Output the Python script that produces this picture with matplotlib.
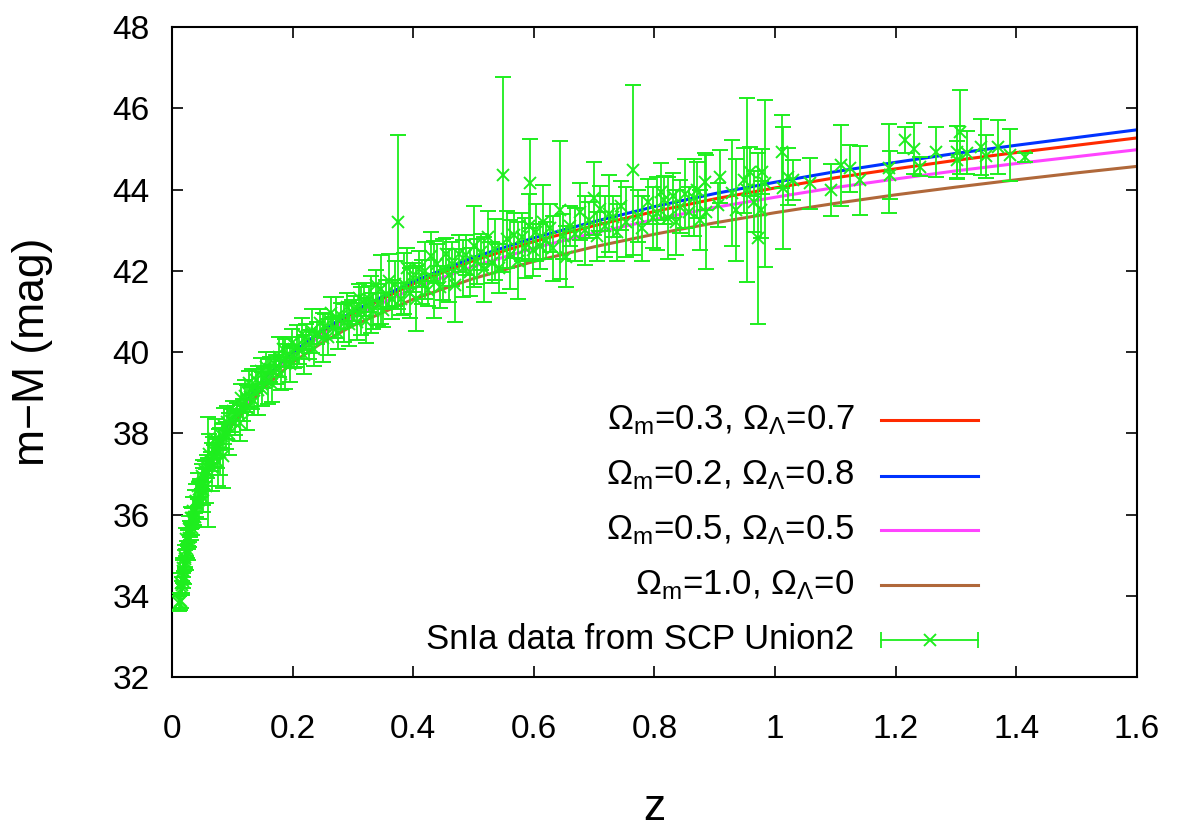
import numpy as np
import matplotlib
matplotlib.use("Agg")
import matplotlib.pyplot as plt

plt.rcParams['font.family'] = ['Liberation Sans', 'DejaVu Sans']
plt.rcParams['mathtext.fontset'] = 'custom'
plt.rcParams['mathtext.rm'] = 'Liberation Sans'
plt.rcParams['mathtext.it'] = 'Liberation Sans'

# model curves (distance modulus)
curve_z = [0.015, 0.02, 0.03, 0.05, 0.075, 0.1, 0.15, 0.2, 0.25, 0.3, 0.4, 0.5,
           0.6, 0.7, 0.8, 0.9, 1.0, 1.1, 1.2, 1.3, 1.4, 1.5, 1.6]
mu_03_07 = [34.06, 34.70, 35.59, 36.74, 37.66, 38.31, 39.28, 39.96, 40.50, 40.95, 41.68, 42.25,
            42.72, 43.11, 43.46, 43.77, 44.04, 44.29, 44.51, 44.72, 44.91, 45.09, 45.27]
mu_02_08 = [34.06, 34.70, 35.60, 36.75, 37.67, 38.33, 39.30, 39.99, 40.54, 41.00, 41.74, 42.33,
            42.81, 43.21, 43.58, 43.90, 44.18, 44.44, 44.67, 44.89, 45.09, 45.28, 45.47]
mu_05_05 = [34.06, 34.69, 35.58, 36.72, 37.64, 38.28, 39.23, 39.90, 40.43, 40.86, 41.57, 42.11,
            42.56, 42.93, 43.26, 43.56, 43.81, 44.05, 44.26, 44.46, 44.64, 44.81, 44.98]
mu_10_00 = [34.05, 34.68, 35.57, 36.70, 37.59, 38.20, 39.10, 39.74, 40.24, 40.65, 41.30, 41.81,
            42.23, 42.59, 42.90, 43.18, 43.43, 43.66, 43.87, 44.06, 44.24, 44.41, 44.57]

# SnIa points, low redshift
z_low = [0.0125, 0.014, 0.015, 0.015, 0.016, 0.017, 0.0175, 0.018, 0.019, 0.020,
         0.021, 0.022, 0.023, 0.024, 0.025, 0.026, 0.027, 0.028, 0.029, 0.030,
         0.031, 0.032, 0.033, 0.034, 0.035, 0.036, 0.038, 0.039, 0.040, 0.042,
         0.043, 0.045, 0.047, 0.048, 0.050, 0.052, 0.054, 0.056, 0.058, 0.060,
         0.062, 0.064, 0.066, 0.068, 0.070, 0.072, 0.075, 0.078, 0.080, 0.083,
         0.086, 0.089, 0.092, 0.095, 0.098, 0.052, 0.060, 0.076, 0.085]
mu_low = [33.81, 33.86, 33.86, 34.31, 34.26, 34.19, 34.60, 34.37, 34.69, 34.45,
          34.96, 34.91, 34.81, 35.40, 35.14, 35.38, 35.06, 35.64, 35.42, 35.64,
          35.92, 35.59, 35.91, 35.67, 36.09, 35.95, 36.32, 35.93, 36.34, 36.25,
          36.70, 36.35, 36.65, 36.45, 36.94, 36.78, 37.06, 36.70, 37.18, 37.05,
          37.48, 37.30, 37.17, 37.59, 37.45, 37.87, 37.51, 37.85, 37.55, 37.94,
          38.17, 37.95, 38.27, 37.99, 38.31, 36.60, 37.05, 37.30, 37.45]
err_low = [0.18, 0.22, 0.15, 0.25, 0.20, 0.17, 0.28, 0.19, 0.23, 0.16,
           0.30, 0.21, 0.18, 0.26, 0.20, 0.24, 0.17, 0.32, 0.22, 0.19,
           0.27, 0.21, 0.25, 0.18, 0.35, 0.20, 0.29, 0.23, 0.40, 0.19,
           0.33, 0.45, 0.22, 0.38, 0.30, 0.55, 0.26, 0.42, 0.28, 0.35,
           0.50, 0.24, 0.60, 0.31, 0.27, 0.48, 0.36, 0.25, 0.58, 0.30,
           0.44, 0.33, 0.40, 0.52, 0.29, 0.55, 1.35, 0.60, 0.80]

# 0.1 < z < 0.3
z_mid1 = [0.102, 0.105, 0.108, 0.112, 0.115, 0.118, 0.121, 0.124, 0.127, 0.130,
          0.133, 0.136, 0.140, 0.143, 0.147, 0.150, 0.153, 0.156, 0.160, 0.163,
          0.166, 0.170, 0.173, 0.177, 0.180, 0.184, 0.187, 0.191, 0.195, 0.199,
          0.203, 0.207, 0.211, 0.215, 0.219, 0.223, 0.228, 0.232, 0.236, 0.241,
          0.245, 0.250, 0.254, 0.258, 0.263, 0.267, 0.272, 0.276, 0.281, 0.285,
          0.290, 0.294, 0.298]
mu_mid1 = [38.55, 38.26, 38.52, 38.25, 38.86, 38.57, 38.92, 38.63, 39.23, 38.89,
           39.09, 38.79, 39.31, 39.06, 39.53, 39.08, 39.37, 39.62, 39.28, 39.57,
           39.22, 39.73, 39.57, 39.88, 39.47, 40.07, 39.71, 39.91, 39.71, 40.21,
           39.85, 40.15, 40.04, 40.44, 39.93, 40.38, 40.18, 40.52, 40.07, 40.47,
           40.71, 40.35, 40.64, 40.37, 40.97, 40.60, 40.85, 40.48, 40.88, 40.71,
           41.11, 40.69, 40.98]
err_mid1 = [0.25, 0.30, 0.22, 0.45, 0.35, 0.28, 0.40, 0.55, 0.30, 0.25,
            0.50, 0.35, 0.28, 0.60, 0.32, 0.42, 0.25, 0.38, 0.55, 0.30,
            0.45, 0.27, 0.35, 0.50, 0.40, 0.30, 0.62, 0.28, 0.45, 0.35,
            0.25, 0.52, 0.33, 0.40, 0.48, 0.30, 0.36, 0.55, 0.42, 0.28,
            0.35, 0.60, 0.30, 0.45, 0.38, 0.25, 0.50, 0.40, 0.32, 0.47,
            0.35, 0.55, 0.30]

# 0.3 < z < 0.6
z_mid2 = [0.302, 0.306, 0.310, 0.314, 0.318, 0.322, 0.326, 0.330, 0.334, 0.338,
          0.342, 0.346, 0.350, 0.355, 0.360, 0.365, 0.370, 0.375, 0.380, 0.385,
          0.390, 0.395, 0.400, 0.405, 0.410, 0.415, 0.420, 0.425, 0.430, 0.435,
          0.440, 0.445, 0.450, 0.455, 0.460, 0.465, 0.470, 0.476, 0.482, 0.488,
          0.494, 0.500, 0.506, 0.512, 0.518, 0.524, 0.530, 0.536, 0.542, 0.549,
          0.555, 0.561, 0.567, 0.573, 0.580, 0.586, 0.592, 0.598]
mu_mid2 = [41.07, 40.75, 41.33, 41.01, 41.29, 40.77, 41.30, 41.18, 41.01, 41.64,
           41.17, 41.55, 41.04, 41.42, 41.76, 41.30, 41.68, 43.20, 41.30, 41.68,
           42.07, 41.45, 41.83, 41.31, 42.04, 41.72, 42.00, 41.53, 42.36, 41.79,
           42.17, 41.60, 42.03, 42.41, 41.89, 42.17, 41.64, 42.42, 42.06, 42.39,
           41.97, 42.60, 42.23, 42.46, 42.04, 42.82, 42.20, 42.53, 42.06, 44.36,
           42.77, 42.40, 42.87, 42.25, 42.83, 42.56, 43.09, 42.51]
err_mid2 = [0.30, 0.45, 0.35, 0.60, 0.40, 0.55, 0.32, 0.70, 0.45, 0.38,
            0.50, 0.85, 0.42, 0.35, 0.65, 0.48, 0.55, 2.15, 0.40, 0.75,
            0.50, 0.62, 0.35, 0.80, 0.45, 0.55, 0.70, 0.40, 0.60, 0.95,
            0.48, 0.52, 0.75, 0.40, 0.65, 0.55, 0.90, 0.45, 0.70, 0.50,
            0.60, 1.00, 0.55, 0.45, 0.80, 0.65, 0.50, 0.75, 0.60, 2.40,
            0.70, 0.85, 0.55, 0.95, 0.60, 0.75, 0.80, 0.65]

# 0.6 < z < 0.88
z_mid3 = [0.594, 0.604, 0.610, 0.615, 0.620, 0.626, 0.632, 0.643, 0.648, 0.654,
          0.660, 0.668, 0.676, 0.684, 0.692, 0.699, 0.705, 0.710, 0.718, 0.725,
          0.731, 0.738, 0.745, 0.752, 0.765, 0.772, 0.780, 0.790, 0.797, 0.804,
          0.810, 0.815, 0.822, 0.830, 0.836, 0.842, 0.850, 0.858, 0.865, 0.870, 0.875]
mu_mid3 = [44.15, 42.95, 42.60, 43.20, 42.75, 43.05, 42.55, 43.50, 42.85, 42.35,
           43.10, 42.90, 43.45, 43.00, 43.25, 43.78, 42.85, 43.53, 43.10, 43.40,
           43.33, 42.95, 43.60, 43.20, 44.48, 43.35, 43.05, 43.70, 43.30, 43.41,
           43.95, 43.74, 43.30, 43.85, 43.20, 43.58, 43.90, 43.45, 43.80, 43.99, 43.25]
err_mid3 = [1.10, 0.70, 0.55, 0.90, 0.45, 0.60, 0.80, 1.70, 0.55, 0.75,
            0.50, 0.65, 0.70, 0.85, 0.45, 0.90, 0.60, 0.55, 0.75, 0.95,
            0.50, 0.70, 0.60, 0.85, 2.10, 0.65, 0.80, 0.55, 0.75, 0.90,
            0.70, 0.60, 1.00, 0.55, 0.80, 0.65, 0.85, 0.60, 0.95, 0.70, 0.75]

# high redshift
z_high = [0.884, 0.886, 0.906, 0.909, 0.928, 0.936, 0.948, 0.953, 0.958, 0.965,
          0.971, 0.976, 0.978, 0.983, 1.011, 1.013, 1.022, 1.030, 1.058, 1.093,
          1.110, 1.124, 1.141, 1.189, 1.191, 1.215, 1.231, 1.240, 1.266, 1.301,
          1.301, 1.307, 1.318, 1.341, 1.350, 1.370, 1.390, 1.414]
mu_high = [44.19, 43.45, 43.62, 44.32, 43.91, 43.50, 44.23, 43.99, 44.44, 43.70,
           42.80, 43.50, 44.44, 44.15, 44.93, 44.03, 44.32, 44.23, 44.15, 43.99,
           44.60, 44.52, 44.23, 44.52, 44.36, 45.22, 45.01, 44.56, 44.93, 44.93,
           44.73, 45.42, 44.90, 45.05, 44.82, 45.05, 44.85, 44.79]
err_high = [0.70, 1.40, 0.55, 0.65, 1.30, 1.25, 0.80, 2.27, 0.60, 0.75,
            2.10, 0.70, 0.55, 2.05, 0.90, 1.50, 0.70, 0.50, 0.62, 0.64,
            1.00, 0.57, 0.85, 1.10, 0.60, 0.31, 0.62, 0.23, 0.62, 0.64,
            0.47, 1.04, 0.53, 0.69, 0.53, 0.66, 0.64, 0.12]

sn_z = np.concatenate([z_low, z_mid1, z_mid2, z_mid3, z_high])
sn_mu = np.concatenate([mu_low, mu_mid1, mu_mid2, mu_mid3, mu_high])
sn_err = np.concatenate([err_low, err_mid1, err_mid2, err_mid3, err_high])

labels = [r'$\Omega_\mathrm{m}$=0.3, $\Omega_\Lambda$=0.7',
          r'$\Omega_\mathrm{m}$=0.2, $\Omega_\Lambda$=0.8',
          r'$\Omega_\mathrm{m}$=0.5, $\Omega_\Lambda$=0.5',
          r'$\Omega_\mathrm{m}$=1.0, $\Omega_\Lambda$=0',
          'SnIa data from SCP Union2']
colors = ['#ff2a00', '#0033ff', '#ff44ff', '#b0683a']
green = '#1eee1e'

fig = plt.figure(figsize=(11.77, 8.32), dpi=100)
ax = fig.add_axes([0.1461, 0.1863, 0.8199, 0.7812])

for mu, c in zip([mu_03_07, mu_02_08, mu_05_05, mu_10_00], colors):
    ax.plot(curve_z, mu, color=c, lw=2.2, zorder=2)

ax.errorbar(sn_z, sn_mu, yerr=sn_err, fmt='x', color=green, ecolor=green,
            elinewidth=1.3, capsize=5.5, capthick=1.3, markersize=9, mew=1.4, zorder=3)

ax.set_xlim(0, 1.6)
ax.set_ylim(32, 48)
ax.set_xticks(np.arange(0, 1.61, 0.2))
ax.set_xticklabels(['0', '0.2', '0.4', '0.6', '0.8', '1', '1.2', '1.4', '1.6'])
ax.set_yticks(np.arange(32, 48.1, 2))
ax.tick_params(direction='in', length=8, width=1.2, labelsize=24, top=True, right=True)
ax.tick_params(axis='x', pad=27)
ax.tick_params(axis='y', pad=16)
for s in ax.spines.values():
    s.set_linewidth(1.5)
ax.set_xlabel('z', fontsize=32)
ax.set_ylabel('m\u2212M (mag)', fontsize=32)
ax.xaxis.label.set_va('center')
ax.yaxis.label.set_va('center')
ax.xaxis.set_label_coords(0.5, -0.202)
ax.yaxis.set_label_coords(-0.144, 0.5)

# key, gnuplot style: text on the left, sample on the right
key_y = [0.395, 0.310, 0.226, 0.142, 0.057]
tx, x0, x1 = 0.707, 0.735, 0.835
for i, lab in enumerate(labels):
    ax.text(tx, key_y[i], lab, transform=ax.transAxes, ha='right', va='center', fontsize=25)
    if i < 4:
        ax.plot([x0, x1], [key_y[i]] * 2, transform=ax.transAxes, color=colors[i], lw=2.2)
    else:
        ax.plot([x0, x1], [key_y[i]] * 2, transform=ax.transAxes, color=green, lw=1.3)
        ax.plot([x0, x1], [key_y[i]] * 2, transform=ax.transAxes, ls='none', marker='|',
                color=green, markersize=11, mew=1.3)
        ax.plot([(x0 + x1) / 2], [key_y[i]], transform=ax.transAxes, ls='none', marker='x',
                color=green, markersize=9, mew=1.4)

fig.savefig('out.png', dpi=100)
